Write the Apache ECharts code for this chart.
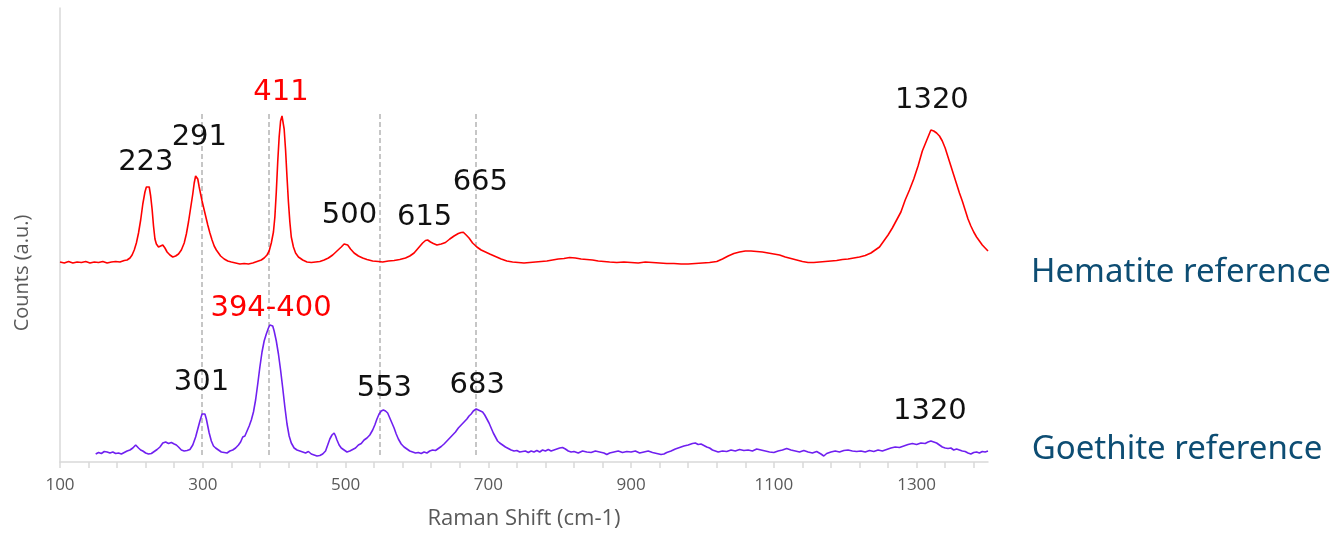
<!DOCTYPE html>
<html>
<head>
<meta charset="utf-8">
<title>Raman spectra – hematite and goethite references</title>
<script src="https://cdn.jsdelivr.net/npm/echarts@6/dist/echarts.min.js"></script>
<style>
  html, body { margin: 0; padding: 0; background: #ffffff; }
  #chart { width: 1338px; height: 535px; }
</style>
</head>
<body>
<div id="chart"></div>
<script>
// Raman shift (cm-1) vs. offset counts (a.u.) for the two reference spectra
const hematite = [
  [100,200],[106,199],[112,200.5],[118,199],[124,200],[130,199.5],[136,200.5],[142,199],[148,200],[154,199.5],
  [160,200.5],[166,199],[172,200],[178,200.5],[184,200],[190,201.5],[194,202],[198,204],[201,207],[204,212],
  [207,219],[210,229],[213,242],[216,258],[219,270],[221,275],[223,277],[225,275],[227,266],[229,253],
  [231,236],[233,223],[235,218],[238,215],[241,216],[244,217],[247,214],[250,210],[254,207],[258,205],
  [262,206],[266,208],[270,212],[274,219],[277,228],[280,240],[283,254],[286,268],[288,279],[290,286],
  [291,287],[293,283],[295,275],[297,268],[299,261],[301,255],[304,246],[307,237],[310,229],[313,222],
  [316,216],[319,212],[322,209],[325,206],[330,203],[335,201],[340,200],[346,199],[352,198],[358,198.5],
  [364,198],[370,199],[376,200.5],[382,202],[386,204],[390,207],[393,211],[396,219],[399,230],[401,245],
  [403,270],[405,300],[407,325],[409,341],[411,346],[412.5,344],[414,333],[416,312],[418,285],[420,260],
  [422,240],[424,225],[427,215],[430,209],[434,205],[440,202],[446,200],[452,199.5],[458,200],[464,200.5],
  [470,202],[476,204],[482,207],[488,211],[494,215],[498,218],[500,219],[503,217],[507,213],[512,209],
  [518,206],[524,204],[530,202.5],[538,201],[546,200.5],[552,200],[560,201],[568,201.5],[576,202.5],[584,204],
  [590,206],[596,209],[602,214],[608,219],[612,221.5],[615,222],[619,220],[623,218.5],[628,217],[634,218],
  [640,219.5],[646,223],[652,226],[658,228.5],[662,229.5],[665,229.8],[669,227],[673,224],[678,219],[684,215],
  [690,212],[696,210],[702,208],[710,205.5],[718,203],[726,201],[734,200],[742,199.5],[750,199],[758,199.5],
  [766,200],[774,200.5],[782,201],[790,202],[798,203],[806,203.5],[814,204.5],[822,204],[830,203],[838,202.5],
  [846,202],[854,201],[862,200.5],[870,200],[880,199.5],[890,200],[900,199.5],[910,199],[920,200],[930,199.5],
  [940,199],[950,198.5],[960,198.5],[970,198],[980,198],[990,198.5],[1000,199],[1010,199.5],[1020,200.5],[1028,203],
  [1036,206],[1044,208.5],[1052,210],[1060,211],[1068,211],[1076,210.5],[1084,210],[1092,209],[1100,208],[1108,207],
  [1116,205],[1124,203.5],[1132,202],[1140,200.5],[1148,199.5],[1156,199.5],[1164,200],[1172,200.5],[1180,201],[1188,201.5],
  [1196,202.5],[1204,203],[1212,204],[1220,205],[1228,206.5],[1236,209],[1242,212],[1248,215],[1254,221],[1260,227],
  [1266,234],[1272,242],[1278,250],[1284,262],[1290,272],[1296,283],[1302,296],[1308,311],[1312,318],[1316,325],
  [1320,332],[1324,331],[1328,329],[1332,326],[1336,321],[1340,314],[1344,305],[1348,296],[1352,287],[1356,278],
  [1360,269],[1364,261],[1368,252],[1372,243],[1376,236],[1380,230],[1384,225],[1388,221],[1392,217],[1396,214],
  [1400,211]
];

const goethite = [
  [150,8],[154,9.5],[158,8.5],[162,10.5],[166,10],[170,9],[174,10],[178,8.5],[182,9],[186,8],
  [190,9.5],[194,11],[198,12],[202,14],[206,17],[208,16.5],[210,14],[213,12],[216,11],[220,9],
  [224,8],[228,8.5],[232,10.5],[236,12.5],[240,15],[244,19],[248,20],[252,18.5],[256,19.5],[260,18],
  [263,17],[266,15],[270,12],[274,11],[278,11.5],[282,12.5],[286,17],[290,25],[293,33],[296,41],
  [299,48],[301,50],[303,48],[305,43],[307,36],[309,29],[312,21],[315,16],[318,14],[322,12],
  [326,10],[330,9.5],[334,9],[338,11],[342,12],[346,14],[350,17],[353,20],[356,25],[359,26],
  [362,31],[365,36],[368,42],[371,50],[374,62],[377,78],[380,95],[383,110],[386,121],[389,128],
  [392,134],[394,137],[396,135],[398,136],[400,131],[403,121],[406,108],[409,92],[412,74],[415,55],
  [418,38],[421,26],[424,19],[428,14],[432,12],[436,11],[440,10],[444,9],[448,10.5],[452,8],
  [456,7],[460,6],[464,6.5],[468,8],[472,11],[475,17],[478,23],[481,27],[484,29],[486,26],
  [488,22],[491,17],[494,14],[498,12],[502,10],[506,11],[510,12.5],[514,14],[518,17],[522,18.5],
  [526,22],[530,24],[534,27],[538,32],[541,37],[544,43],[547,48],[550,51],[553,52],[556,51],
  [559,49],[562,44],[565,39],[568,34],[571,28],[574,23],[578,18],[582,15],[586,13],[590,11],
  [594,10],[598,9],[602,9.5],[606,8.5],[610,10],[614,9],[618,11],[622,12],[626,11.5],[630,13.5],
  [634,15.5],[638,18],[642,21],[646,24],[650,27],[654,30],[658,34],[662,37],[666,40],[670,43],
  [673,46],[676,48],[679,51],[681,52],[683,53],[686,52],[689,51],[692,50],[695,47],[698,43],
  [701,39],[704,34],[707,29],[710,25],[713,21],[716,19],[720,17],[724,15],[728,13.5],[732,12],
  [736,11],[740,11.5],[744,10],[748,10.5],[752,11],[756,9.5],[760,11],[764,10],[768,11.5],[772,10],
  [776,12],[780,11],[784,12.5],[788,11],[792,12],[796,13],[800,14],[804,14.5],[808,13],[812,11],
  [816,10],[820,10.5],[826,9],[832,11],[838,10],[844,9.5],[850,11],[856,10],[862,9],[866,7.5],
  [870,9],[876,10],[882,11],[888,9.5],[894,10.5],[900,10],[906,11],[912,9],[918,10],[924,11],
  [930,9.5],[936,8.5],[942,7.5],[946,8],[950,9.5],[956,11],[962,13],[968,14.5],[974,16],[980,17],
  [986,18.5],[990,19],[994,17.5],[998,18],[1002,16.5],[1006,15],[1010,14],[1014,12],[1018,11],[1022,10],
  [1028,11],[1034,10.5],[1040,12],[1046,11],[1052,12.5],[1058,11.5],[1064,12],[1070,11],[1076,13],[1082,12],
  [1088,11],[1094,10],[1100,9.5],[1106,11],[1112,12],[1118,13.5],[1124,12],[1130,11],[1136,10],[1142,11.5],
  [1148,10],[1154,9],[1160,10.5],[1166,8],[1170,6],[1174,8.5],[1180,10],[1186,11],[1192,10],[1198,11.5],
  [1204,12],[1210,11],[1216,10.5],[1222,11],[1228,10],[1234,11.5],[1240,10.5],[1246,12],[1252,11],[1258,12.5],
  [1264,14],[1270,15],[1276,14.5],[1282,16],[1288,17.5],[1294,18.5],[1300,17.5],[1306,19],[1312,18.5],[1316,20],
  [1320,21],[1324,20],[1328,19],[1332,17],[1336,15],[1340,14],[1344,13.5],[1348,14],[1352,12],[1356,13],
  [1360,12],[1364,11],[1368,10.5],[1372,9],[1376,8],[1380,9.5],[1384,10],[1388,9],[1392,10.5],[1396,10],
  [1400,11]
];

// Peak annotations (Raman shift of each band and the text shown above it)
const hematitePeaks = [223, 291, 411, 500, 615, 665, 1320];
const hematitePeakText = ['223', '291', '411', '500', '615', '665', '1320'];
const goethitePeaks = [301, 397, 553, 683, 1320];
const goethitePeakText = ['301', '394-400', '553', '683', '1320'];
// Bands highlighted in red
const highlighted = ['411', '394-400'];

// Guide lines marking goethite band positions
const guideShifts = [298, 392, 548, 683];
const guideRange = [7, 349];

// Axis ticks and labels
const xTickLabels = [100, 300, 500, 700, 900, 1100, 1300];
const xTickStep = 40;

const xTicks = [];
for (let v = 100; v < 1400; v += xTickStep) xTicks.push(v);

// Linear lookup of a spectrum value at a given shift
function valueAt(data, x) {
  for (let i = 1; i < data.length; i++) {
    if (data[i][0] >= x) {
      const [x0, y0] = data[i - 1];
      const [x1, y1] = data[i];
      return y0 + (y1 - y0) * (x - x0) / (x1 - x0);
    }
  }
  return data[data.length - 1][1];
}

const hemLabelOffsets = [[-2, -23], [3, -38], [-1, -24], [4, -28], [-3, -23], [17, -50], [1, -30]];
const goeLabelOffsets = [[-2, -30], [-1, -18], [1, -22], [1, -24], [-1, -30]];

function peakMarks(data, peaks, texts, offsets) {
  return peaks.map((p, i) => ({
    coord: [p, valueAt(data, p)],
    value: texts[i],
    label: {
      show: true,
      position: 'inside',
      offset: offsets[i],
      formatter: texts[i],
      color: highlighted.includes(texts[i]) ? '#ff0000' : '#111111',
      fontFamily: 'DejaVu Sans',
      fontSize: 29,
      align: 'center',
      verticalAlign: 'middle'
    }
  }));
}

const chart = echarts.init(document.getElementById('chart'), null, { renderer: 'canvas' });

chart.setOption({
  animation: false,
  backgroundColor: '#ffffff',
  grid: { left: 60, right: 350, top: 8, bottom: 73, containLabel: false },
  xAxis: {
    type: 'value',
    min: 100,
    max: 1400,
    name: 'Raman Shift (cm-1)',
    nameLocation: 'middle',
    nameGap: 46,
    nameTextStyle: { color: '#595959', fontFamily: 'Open Sans', fontSize: 22 },
    axisLine: { show: true, lineStyle: { color: '#d9d9d9', width: 1.5 } },
    axisTick: { show: true, customValues: xTicks, length: 6, lineStyle: { color: '#d9d9d9', width: 1.5 } },
    axisLabel: {
      customValues: xTickLabels,
      formatter: v => String(v),
      color: '#595959',
      fontFamily: 'Open Sans',
      fontSize: 17,
      margin: 15
    },
    splitLine: { show: false }
  },
  yAxis: {
    type: 'value',
    min: 0,
    max: 454,
    axisLine: { show: true, lineStyle: { color: '#d9d9d9', width: 1.5 } },
    axisTick: { show: false },
    axisLabel: { show: false },
    splitLine: { show: false }
  },
  graphic: [
    {
      type: 'text',
      x: 22,
      y: 273,
      rotation: Math.PI / 2,
      style: {
        text: 'Counts (a.u.)',
        fill: '#595959',
        font: '20px "Open Sans"',
        align: 'center',
        verticalAlign: 'middle'
      }
    },
    {
      type: 'text',
      x: 1181,
      y: 273,
      style: {
        text: 'Hematite reference',
        fill: '#0d4d73',
        font: '33px "Noto Sans"',
        align: 'center',
        verticalAlign: 'middle'
      }
    },
    {
      type: 'text',
      x: 1177,
      y: 450,
      style: {
        text: 'Goethite reference',
        fill: '#0d4d73',
        font: '33px "Noto Sans"',
        align: 'center',
        verticalAlign: 'middle'
      }
    }
  ],
  series: [
    {
      name: 'Hematite reference',
      type: 'line',
      data: hematite,
      showSymbol: false,
      symbol: 'none',
      lineStyle: { color: '#ff0000', width: 1.6 },
      z: 3,
      markPoint: {
        symbol: 'circle',
        symbolSize: 0,
        silent: true,
        data: peakMarks(hematite, hematitePeaks, hematitePeakText, hemLabelOffsets)
      }
    },
    {
      name: 'Goethite reference',
      type: 'line',
      data: goethite,
      showSymbol: false,
      symbol: 'none',
      lineStyle: { color: '#7020f0', width: 1.6 },
      z: 3,
      markPoint: {
        symbol: 'circle',
        symbolSize: 0,
        silent: true,
        data: peakMarks(goethite, goethitePeaks, goethitePeakText, goeLabelOffsets)
      },
      markLine: {
        silent: true,
        symbol: ['none', 'none'],
        label: { show: false },
        lineStyle: { color: '#b4b4b4', type: [5, 3], width: 1.5 },
        z: 1,
        data: guideShifts.map(s => [{ coord: [s, guideRange[0]] }, { coord: [s, guideRange[1]] }])
      }
    }
  ]
});
</script>
</body>
</html>
